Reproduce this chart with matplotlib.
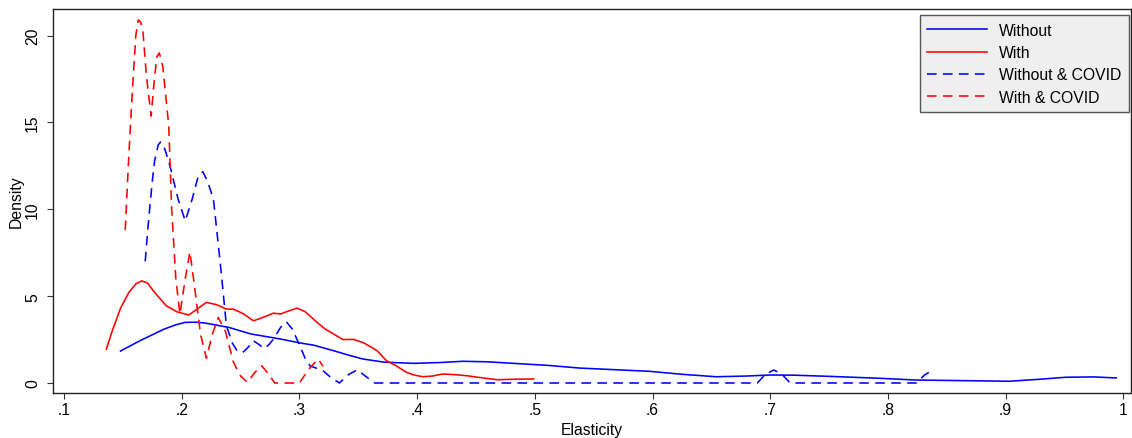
import matplotlib
matplotlib.use("Agg")
import matplotlib.pyplot as plt

plt.rcParams['font.family'] = ['Liberation Sans', 'DejaVu Sans']

# Without (blue solid)
without_x = [0.148, 0.165, 0.185, 0.195, 0.203, 0.212, 0.22, 0.24, 0.259, 0.284, 0.301, 0.312, 0.329,
             0.342, 0.354, 0.372, 0.397, 0.42, 0.439, 0.46, 0.482, 0.51, 0.538, 0.57, 0.598,
             0.625, 0.654, 0.68, 0.700, 0.72, 0.751, 0.79, 0.824, 0.86, 0.903, 0.93,
             0.951, 0.975, 0.994]
without_y = [1.84, 2.45, 3.1, 3.35, 3.49, 3.5, 3.45, 3.2, 2.82, 2.53, 2.30, 2.18, 1.86,
             1.6, 1.38, 1.2, 1.13, 1.18, 1.25, 1.22, 1.13, 1.02, 0.86, 0.76, 0.67,
             0.5, 0.36, 0.4, 0.46, 0.45, 0.38, 0.28, 0.17, 0.14, 0.10, 0.22,
             0.33, 0.35, 0.29]

# With (red solid)
with_x = [0.136, 0.141, 0.148, 0.155, 0.161, 0.166, 0.171, 0.176, 0.181, 0.187, 0.196, 0.206, 0.214, 0.221, 0.230,
          0.238, 0.244, 0.252, 0.261, 0.270, 0.278, 0.284, 0.291, 0.298, 0.305, 0.315,
          0.322, 0.329, 0.337, 0.346, 0.355, 0.366, 0.374, 0.382, 0.391, 0.398, 0.405, 0.413, 0.422,
          0.432, 0.442, 0.455, 0.468, 0.485, 0.499]
with_y = [1.95, 3.0, 4.3, 5.2, 5.7, 5.88, 5.75, 5.3, 4.9, 4.44, 4.1, 3.91, 4.3, 4.64, 4.5,
          4.25, 4.25, 4.0, 3.58, 3.8, 4.02, 3.97, 4.15, 4.31, 4.1, 3.49,
          3.1, 2.82, 2.5, 2.51, 2.3, 1.86, 1.28, 1.0, 0.61, 0.45, 0.36, 0.4, 0.52,
          0.48, 0.42, 0.3, 0.19, 0.22, 0.23]

# Without & COVID (blue dashed)
without_covid_x = [0.169, 0.171, 0.173, 0.175, 0.177, 0.180, 0.182, 0.184, 0.186, 0.190, 0.197, 0.203, 0.209, 0.214,
                   0.218, 0.222, 0.227, 0.233, 0.238, 0.243, 0.247, 0.252, 0.257, 0.261, 0.266, 0.270, 0.274, 0.278,
                   0.284, 0.289, 0.294, 0.300, 0.305, 0.309, 0.320, 0.327, 0.334, 0.341, 0.349,
                   0.356, 0.364, 0.40, 0.50, 0.60, 0.689, 0.696, 0.703, 0.710, 0.717,
                   0.76, 0.80, 0.824, 0.831, 0.838]
without_covid_y = [7.0, 8.7, 10.2, 11.6, 12.8, 13.7, 13.87, 13.7, 13.4, 12.5, 10.57, 9.33, 10.6, 11.9,
                   12.16, 11.6, 10.57, 6.74, 3.29, 2.3, 1.86, 1.76, 2.1, 2.43, 2.2, 1.99, 2.2, 2.53,
                   3.2, 3.52, 3.1, 2.2, 1.4, 0.99, 0.71, 0.3, 0.0, 0.45, 0.76,
                   0.4, 0.0, 0.0, 0.0, 0.0, 0.0, 0.5, 0.75, 0.5, 0.0,
                   0.0, 0.0, 0.0, 0.45, 0.75]

# With & COVID (red dashed)
with_covid_x = [0.152, 0.155, 0.158, 0.161, 0.163, 0.165, 0.167, 0.170, 0.174, 0.177, 0.179, 0.181,
                0.184, 0.189, 0.1915, 0.195, 0.1985, 0.203, 0.207, 0.211, 0.216, 0.221,
                0.226, 0.231, 0.237, 0.244, 0.250, 0.256, 0.262, 0.268, 0.274, 0.279,
                0.300, 0.308, 0.316, 0.320]
with_covid_y = [8.8, 13.0, 16.7, 20.0, 20.9, 20.8, 20.3, 17.7, 15.36, 17.66, 18.8, 19.0,
                18.2, 14.8, 10.0, 6.0, 3.97, 6.0, 7.55, 5.5, 2.8, 1.42,
                2.8, 3.77, 3.0, 1.19, 0.4, 0.04, 0.6, 0.99, 0.5, 0.0,
                0.0, 0.8, 1.38, 0.96]

x_ticks = [0.1, 0.2, 0.3, 0.4, 0.5, 0.6, 0.7, 0.8, 0.9, 1.0]
x_tick_labels = ['.1', '.2', '.3', '.4', '.5', '.6', '.7', '.8', '.9', '1']
y_ticks = [0, 5, 10, 15, 20]
y_tick_labels = ['0', '5', '10', '15', '20']

W, H = 1132, 439
fig = plt.figure(figsize=(W / 100, H / 100), dpi=100)
ax = fig.add_axes([53 / W, 1 - 394 / H, (1131 - 53) / W, (394 - 10) / H])

fs = 11.3
dash = (0, (6, 4))
ax.plot(without_x, without_y, color='#0000ff', lw=1.15, label='Without')
ax.plot(with_x, with_y, color='#ff0000', lw=1.15, label='With')
ax.plot(without_covid_x, without_covid_y, color='#0000ff', lw=1.15, linestyle=dash,
        label='Without & COVID')
ax.plot(with_covid_x, with_covid_y, color='#ff0000', lw=1.15, linestyle=dash,
        label='With & COVID')

ax.set_xlim(0.09065, 1.00654)
ax.set_ylim(-0.576, 21.53)
ax.set_xticks(x_ticks)
ax.set_xticklabels(x_tick_labels)
ax.set_yticks(y_ticks)
ax.set_yticklabels(y_tick_labels, rotation=90, va='center')
ax.tick_params(axis='both', labelsize=fs, length=4.3, width=0.8, color='#333333')
ax.tick_params(axis='x', pad=2.5)
ax.tick_params(axis='y', pad=5)
ax.set_xlabel('Elasticity', fontsize=fs, labelpad=3.5)
ax.set_ylabel('Density', fontsize=fs, labelpad=1)
for s in ax.spines.values():
    s.set_linewidth(1.0)
    s.set_color('#222222')

leg = ax.legend(loc='upper right', bbox_to_anchor=(1129 / W, 1 - 16 / H),
                bbox_transform=fig.transFigure, borderaxespad=0,
                fontsize=fs, fancybox=False, framealpha=1,
                facecolor='#efefef', edgecolor='#555555', handlelength=3.8,
                labelspacing=0.46, handletextpad=0.75, borderpad=0.5)
leg.get_frame().set_linewidth(1.0)

fig.savefig('out.png', dpi=100)
